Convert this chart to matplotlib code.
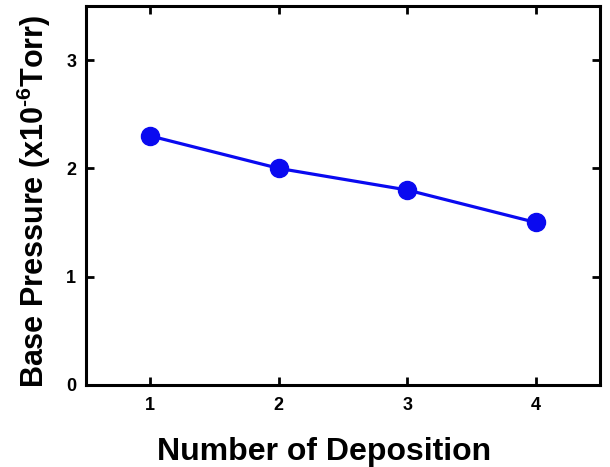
import matplotlib
matplotlib.use("Agg")
import matplotlib.pyplot as plt

plt.rcParams['font.family'] = ['Liberation Sans', 'DejaVu Sans']
plt.rcParams['font.weight'] = 'bold'
plt.rcParams['mathtext.fontset'] = 'custom'
plt.rcParams['mathtext.rm'] = 'Liberation Sans:bold'
plt.rcParams['mathtext.bf'] = 'Liberation Sans:bold'
plt.rcParams['mathtext.default'] = 'bf'

deposition = [1, 2, 3, 4]
pressure = [2.3, 2.0, 1.8, 1.5]
xticks = [1, 2, 3, 4]
yticks = [0, 1, 2, 3]

fig = plt.figure(figsize=(6.1, 4.67), dpi=100)
ax = fig.add_axes([0.141, 0.176, 0.843, 0.811])
ax.plot(deposition, pressure, color='#0a0af0', lw=2.3, marker='o', ms=13,
        markerfacecolor='#0a0af0', markeredgecolor='#0a0af0')
ax.set_xlim(0.5, 4.5)
ax.set_ylim(0, 3.5)
ax.set_xticks(xticks)
ax.set_yticks(yticks)
ax.tick_params(direction='in', length=6, width=2, top=True, right=True,
               labelsize=13)
ax.tick_params(axis='x', pad=9)
ax.tick_params(axis='y', pad=7)
for lab in ax.get_xticklabels() + ax.get_yticklabels():
    lab.set_fontweight('bold')
for s in ax.spines.values():
    s.set_linewidth(2.2)
ax.set_xlabel('Number of Deposition', fontsize=23, fontweight='bold')
ax.xaxis.set_label_coords(0.463, -0.138)
ax.set_ylabel(r'Base Pressure (x10$^{\text{-6}}$Torr)', fontsize=22,
              fontweight='bold')
ax.yaxis.set_label_coords(-0.064, 0.484)
fig.savefig('out.png', dpi=100)
